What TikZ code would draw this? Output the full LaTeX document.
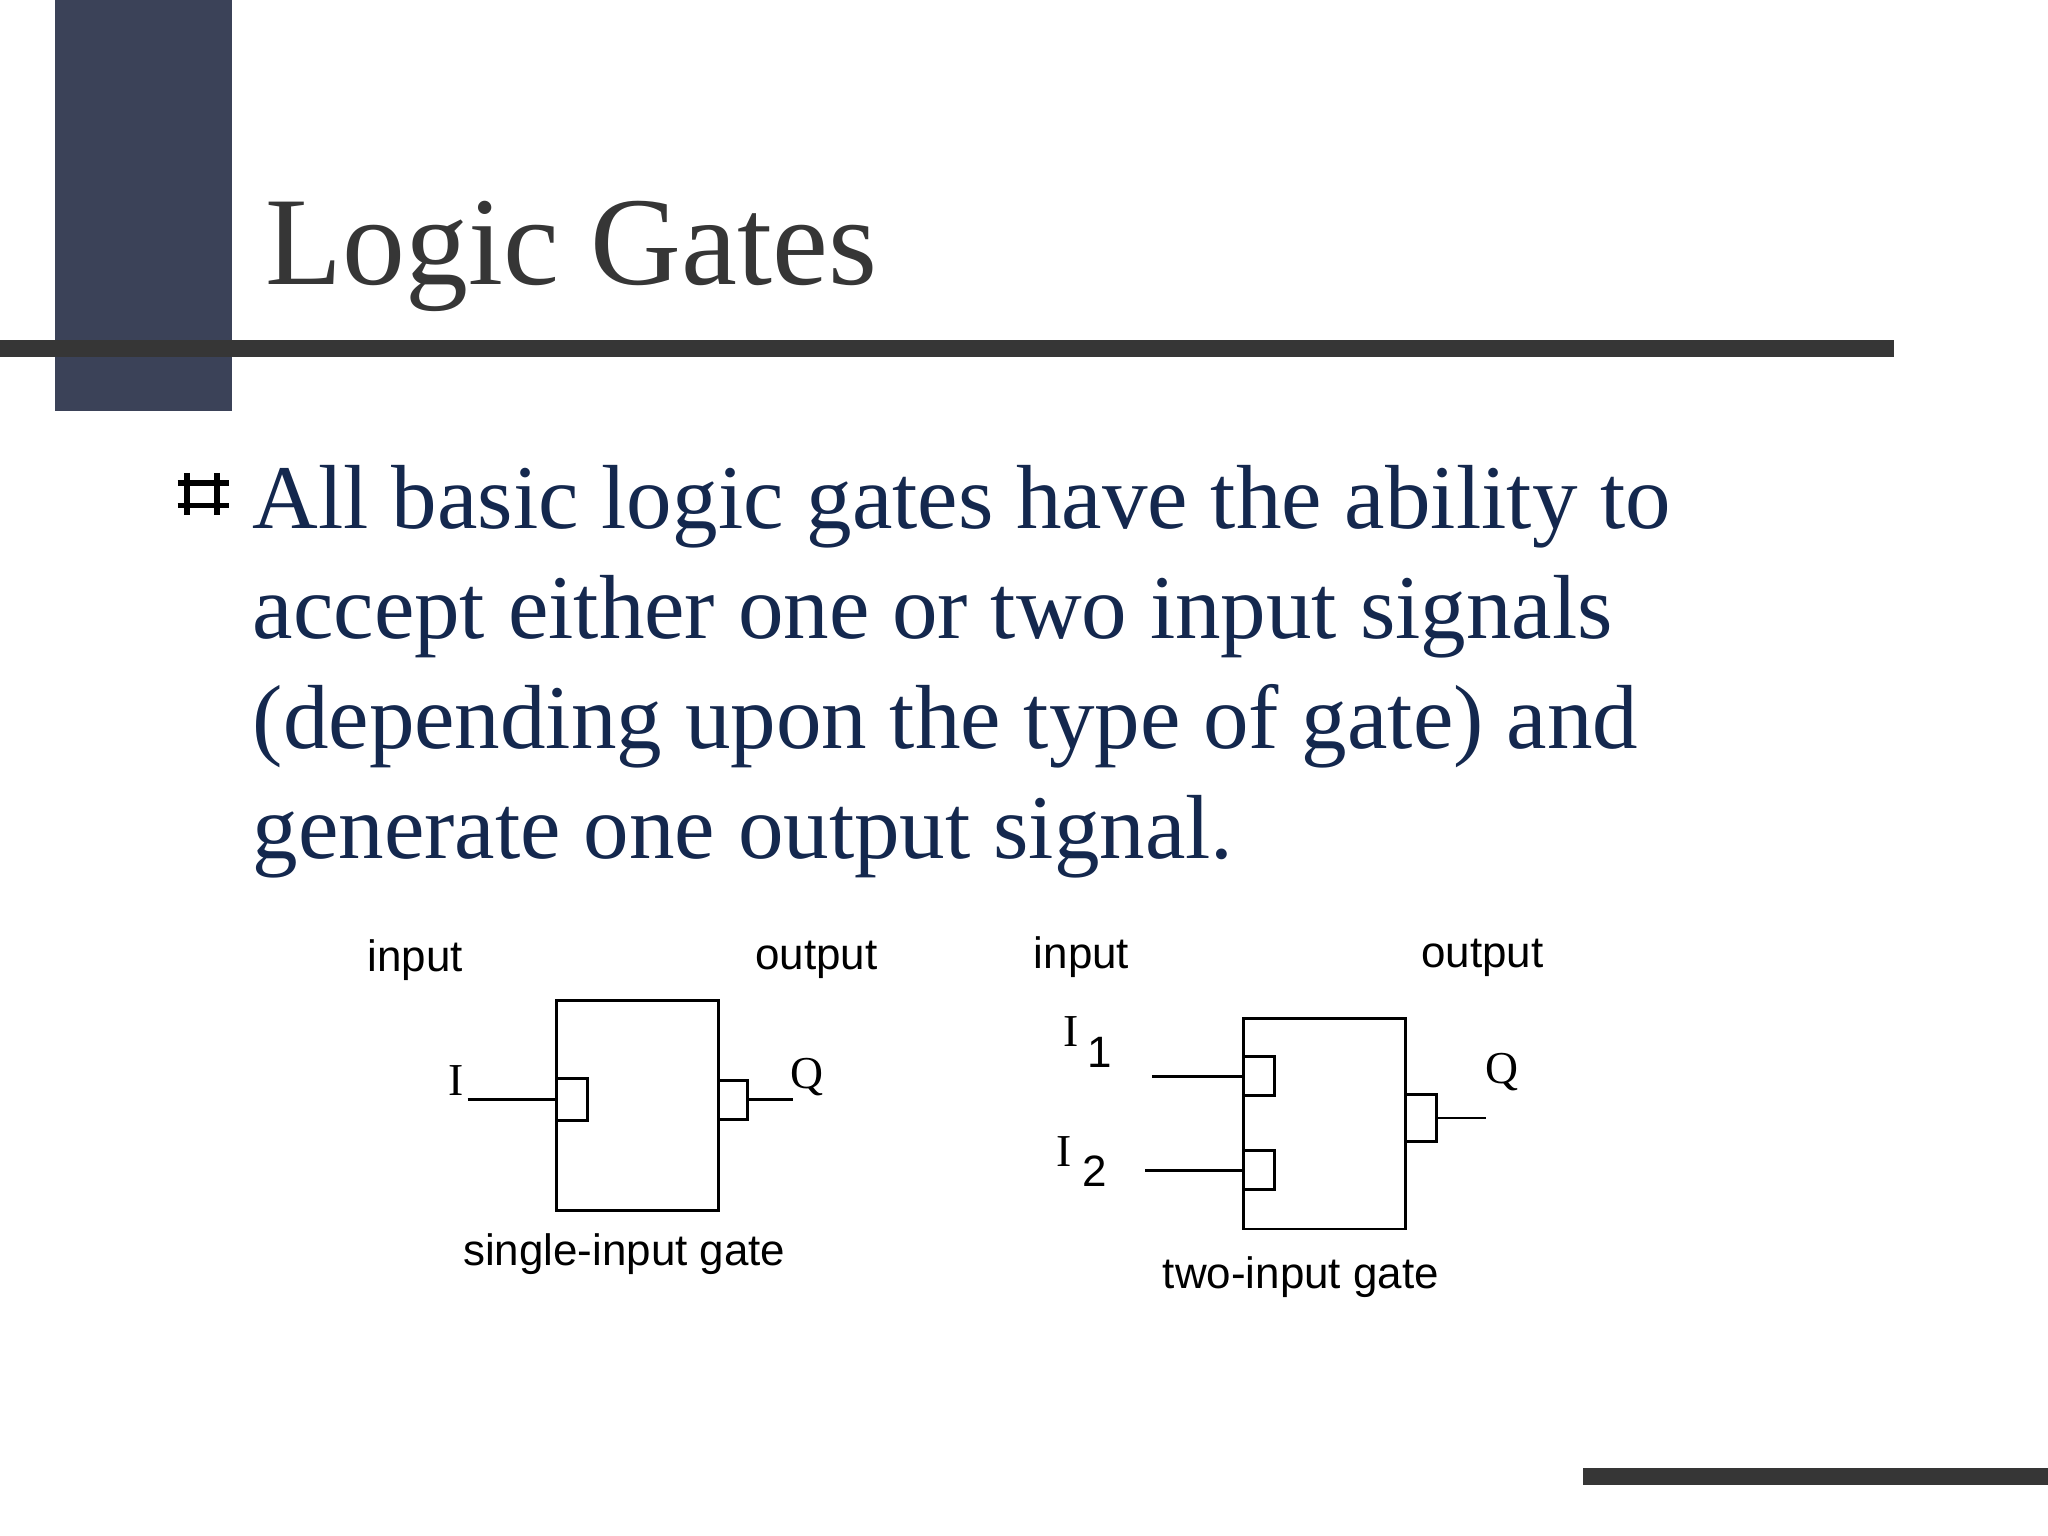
\documentclass[tikz,border=0pt]{standalone}
\usepackage{fontspec}
\setmainfont{Liberation Serif}
\newfontfamily\gatefont{Liberation Sans}
\definecolor{barcol}{HTML}{363636}
\definecolor{sidecol}{HTML}{3B4258}
\definecolor{bodycol}{HTML}{14284E}
\begin{document}
\begin{tikzpicture}[
  x = 0.013061cm, y = -0.013061cm,
  gate/.style = {draw, thick, minimum width = 124*0.013061cm, minimum height = 161*0.013061cm, inner sep = 0},
  pin/.style = {draw, thick, fill = white, minimum width = 24*0.013061cm, minimum height = 32*0.013061cm, inner sep = 0},
  lbl/.style = {font = \gatefont\fontsize{12.5}{12.5}\selectfont, inner sep = 0},
  sym/.style = {font = \fontsize{13}{13}\selectfont, inner sep = 0},
  bodyline/.style = {anchor = base west, text = bodycol, inner sep = 0, font = \fontsize{25.9}{30}\selectfont},
  ]

  \useasboundingbox (0, 0) rectangle (1568, 1176);

  % slide frame
  \fill [sidecol] (42, 0) rectangle (178, 315);
  \fill [barcol] (0, 260) rectangle (1450, 273);
  \fill [barcol] (1212, 1124) rectangle (1568, 1137);

  \node [anchor = base west, text = barcol, inner sep = 0, font = \fontsize{35.8}{40}\selectfont]
  (Title) at (203, 218) {Logic Gates};

  % bullet
  \draw [line width = 1.6pt, black] (143, 362) -- (143, 394) (166, 362) -- (166, 394)
    (136, 370) -- (175, 370) (136, 387) -- (175, 387);

  \node [bodyline] (BodyA) at (193, 405) {All basic logic gates have the ability to};
  \node [bodyline] (BodyB) at (193, 489) {accept either one or two input signals};
  \node [bodyline] (BodyC) at (193, 573) {(depending upon the type of gate) and};
  \node [bodyline] (BodyD) at (193, 657) {generate one output signal.};

  % single-input gate
  \node [gate] (GateA) at (488, 846.5) {};
  \node [pin] (GateAIn) at (438, 842) {};
  \node [pin, minimum width = 22*0.013061cm, minimum height = 30*0.013061cm] (GateAOut) at (561, 842) {};
  \coordinate (GateAInEnd) at (358, 842);
  \coordinate (GateAOutEnd) at (607, 842);
  \draw [thick] (GateAInEnd) -- (GateAIn.west);
  \draw [thick] (GateAOut.east) -- (GateAOutEnd);
  \node [sym] (GateAI) at (349, 827) {I};
  \node [sym] (GateAQ) at (618, 825) {Q};
  \node [lbl] (GateAInput) at (318, 735) {input};
  \node [lbl] (GateAOutput) at (625, 735) {output};
  \node [lbl] (GateACap) at (478, 960) {single-input gate};

  % two-input gate
  \node [gate] (GateB) at (1014, 860.5) {};
  \node [pin, minimum height = 30*0.013061cm] (GateBInOne) at (964, 824) {};
  \node [pin, minimum height = 30*0.013061cm] (GateBInTwo) at (964, 896) {};
  \node [pin, minimum height = 36*0.013061cm] (GateBOut) at (1088, 856) {};
  \coordinate (GateBOneEnd) at (882, 824);
  \coordinate (GateBTwoEnd) at (877, 896);
  \coordinate (GateBOutEnd) at (1138, 856);
  \draw [thick] (GateBOneEnd) -- (GateBInOne.west);
  \draw [thick] (GateBTwoEnd) -- (GateBInTwo.west);
  \draw [thick] (GateBOut.east) -- (GateBOutEnd);
  \node [sym] (GateBI) at (820, 790) {I};
  \node [lbl] (GateBIsub) at (842, 806) {1};
  \node [sym] (GateBII) at (815, 882) {I};
  \node [lbl] (GateBIIsub) at (838, 897) {2};
  \node [sym] (GateBQ) at (1150, 821) {Q};
  \node [lbl] (GateBInput) at (828, 733) {input};
  \node [lbl] (GateBOutput) at (1135, 733) {output};
  \node [lbl] (GateBCap) at (996, 978) {two-input gate};

\end{tikzpicture}
\end{document}
